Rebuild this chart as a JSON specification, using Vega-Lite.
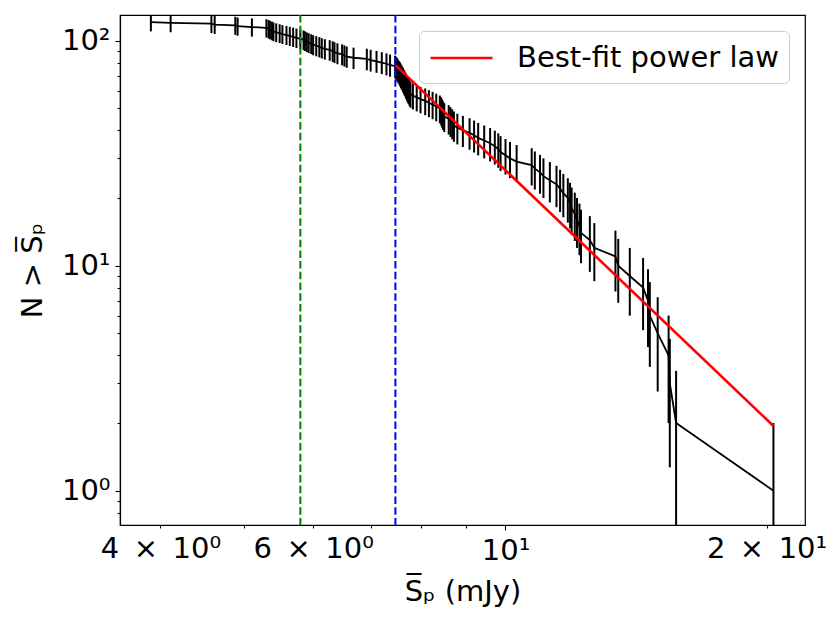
{
  "$schema": "https://vega.github.io/schema/vega-lite/v6.json",
  "width": 685,
  "height": 510,
  "autosize": "none",
  "padding": {"left": 120, "top": 15, "right": 26, "bottom": 96},
  "config": {
    "font": "DejaVu Sans",
    "view": {"stroke": "black", "strokeWidth": 1.2},
    "axis": {
      "grid": false,
      "domainColor": "black",
      "domainWidth": 1.2,
      "tickColor": "black",
      "tickWidth": 1.1,
      "labelColor": "black",
      "titleColor": "black",
      "labelFont": "DejaVu Sans",
      "titleFont": "DejaVu Sans",
      "labelFontSize": 29,
      "titleFontSize": 29,
      "titleFontWeight": "normal"
    }
  },
  "datasets": {
    "curve": [
      {"S": 3.90, "N": 121, "lo": 110.00, "hi": 132.00},
      {"S": 4.11, "N": 120, "lo": 109.05, "hi": 130.95},
      {"S": 4.58, "N": 119, "lo": 108.09, "hi": 129.91},
      {"S": 4.62, "N": 118, "lo": 107.14, "hi": 128.86},
      {"S": 4.88, "N": 117, "lo": 106.18, "hi": 127.82},
      {"S": 4.91, "N": 116, "lo": 105.23, "hi": 126.77},
      {"S": 5.10, "N": 115, "lo": 104.28, "hi": 125.72},
      {"S": 5.30, "N": 114, "lo": 103.32, "hi": 124.68},
      {"S": 5.33, "N": 113, "lo": 102.37, "hi": 123.63},
      {"S": 5.35, "N": 112, "lo": 101.42, "hi": 122.58},
      {"S": 5.38, "N": 111, "lo": 100.46, "hi": 121.54},
      {"S": 5.40, "N": 110, "lo": 99.51, "hi": 120.49},
      {"S": 5.44, "N": 109, "lo": 98.56, "hi": 119.44},
      {"S": 5.49, "N": 108, "lo": 97.61, "hi": 118.39},
      {"S": 5.53, "N": 107, "lo": 96.66, "hi": 117.34},
      {"S": 5.59, "N": 106, "lo": 95.70, "hi": 116.30},
      {"S": 5.64, "N": 105, "lo": 94.75, "hi": 115.25},
      {"S": 5.69, "N": 104, "lo": 93.80, "hi": 114.20},
      {"S": 5.74, "N": 103, "lo": 92.85, "hi": 113.15},
      {"S": 5.80, "N": 102, "lo": 91.90, "hi": 112.10},
      {"S": 5.85, "N": 101, "lo": 90.95, "hi": 111.05},
      {"S": 5.87, "N": 100, "lo": 90.00, "hi": 110.00},
      {"S": 5.90, "N": 99, "lo": 89.05, "hi": 108.95},
      {"S": 5.93, "N": 98, "lo": 88.10, "hi": 107.90},
      {"S": 5.97, "N": 97, "lo": 87.15, "hi": 106.85},
      {"S": 6.00, "N": 96, "lo": 86.20, "hi": 105.80},
      {"S": 6.05, "N": 95, "lo": 85.25, "hi": 104.75},
      {"S": 6.10, "N": 94, "lo": 84.30, "hi": 103.70},
      {"S": 6.14, "N": 93, "lo": 83.36, "hi": 102.64},
      {"S": 6.19, "N": 92, "lo": 82.41, "hi": 101.59},
      {"S": 6.27, "N": 91, "lo": 81.46, "hi": 100.54},
      {"S": 6.32, "N": 90, "lo": 80.51, "hi": 99.49},
      {"S": 6.35, "N": 89, "lo": 79.57, "hi": 98.43},
      {"S": 6.40, "N": 88, "lo": 78.62, "hi": 97.38},
      {"S": 6.48, "N": 87, "lo": 77.67, "hi": 96.33},
      {"S": 6.52, "N": 86, "lo": 76.73, "hi": 95.27},
      {"S": 6.56, "N": 85, "lo": 75.78, "hi": 94.22},
      {"S": 6.68, "N": 84, "lo": 74.83, "hi": 93.17},
      {"S": 6.92, "N": 83, "lo": 73.89, "hi": 92.11},
      {"S": 6.99, "N": 82, "lo": 72.94, "hi": 91.06},
      {"S": 7.10, "N": 81, "lo": 72.00, "hi": 90.00},
      {"S": 7.20, "N": 80, "lo": 71.06, "hi": 88.94},
      {"S": 7.29, "N": 79, "lo": 70.11, "hi": 87.89},
      {"S": 7.36, "N": 78, "lo": 69.17, "hi": 86.83},
      {"S": 7.46, "N": 77, "lo": 68.23, "hi": 85.77},
      {"S": 7.48, "N": 76, "lo": 67.28, "hi": 84.72},
      {"S": 7.50, "N": 75, "lo": 66.34, "hi": 83.66},
      {"S": 7.51, "N": 74, "lo": 65.40, "hi": 82.60},
      {"S": 7.53, "N": 73, "lo": 64.46, "hi": 81.54},
      {"S": 7.55, "N": 72, "lo": 63.51, "hi": 80.49},
      {"S": 7.56, "N": 71, "lo": 62.57, "hi": 79.43},
      {"S": 7.58, "N": 70, "lo": 61.63, "hi": 78.37},
      {"S": 7.59, "N": 69, "lo": 60.69, "hi": 77.31},
      {"S": 7.61, "N": 68, "lo": 59.75, "hi": 76.25},
      {"S": 7.62, "N": 67, "lo": 58.81, "hi": 75.19},
      {"S": 7.64, "N": 66, "lo": 57.88, "hi": 74.12},
      {"S": 7.65, "N": 65, "lo": 56.94, "hi": 73.06},
      {"S": 7.67, "N": 64, "lo": 56.00, "hi": 72.00},
      {"S": 7.68, "N": 63, "lo": 55.06, "hi": 70.94},
      {"S": 7.70, "N": 62, "lo": 54.13, "hi": 69.87},
      {"S": 7.71, "N": 61, "lo": 53.19, "hi": 68.81},
      {"S": 7.73, "N": 60, "lo": 52.25, "hi": 67.75},
      {"S": 7.75, "N": 59, "lo": 51.32, "hi": 66.68},
      {"S": 7.77, "N": 58, "lo": 50.38, "hi": 65.62},
      {"S": 7.82, "N": 57, "lo": 49.45, "hi": 64.55},
      {"S": 7.90, "N": 56, "lo": 48.52, "hi": 63.48},
      {"S": 7.98, "N": 55, "lo": 47.58, "hi": 62.42},
      {"S": 8.08, "N": 54, "lo": 46.65, "hi": 61.35},
      {"S": 8.16, "N": 53, "lo": 45.72, "hi": 60.28},
      {"S": 8.24, "N": 52, "lo": 44.79, "hi": 59.21},
      {"S": 8.32, "N": 51, "lo": 43.86, "hi": 58.14},
      {"S": 8.40, "N": 50, "lo": 42.93, "hi": 57.07},
      {"S": 8.43, "N": 49, "lo": 42.00, "hi": 56.00},
      {"S": 8.45, "N": 48, "lo": 41.07, "hi": 54.93},
      {"S": 8.47, "N": 47, "lo": 40.14, "hi": 53.86},
      {"S": 8.50, "N": 46, "lo": 39.22, "hi": 52.78},
      {"S": 8.60, "N": 45, "lo": 38.29, "hi": 51.71},
      {"S": 8.64, "N": 44, "lo": 37.37, "hi": 50.63},
      {"S": 8.68, "N": 43, "lo": 36.44, "hi": 49.56},
      {"S": 8.72, "N": 42, "lo": 35.52, "hi": 48.48},
      {"S": 8.80, "N": 41, "lo": 34.60, "hi": 47.40},
      {"S": 8.93, "N": 40, "lo": 33.68, "hi": 46.32},
      {"S": 9.09, "N": 39, "lo": 32.76, "hi": 45.24},
      {"S": 9.20, "N": 38, "lo": 31.84, "hi": 44.16},
      {"S": 9.30, "N": 37, "lo": 30.92, "hi": 43.08},
      {"S": 9.45, "N": 36, "lo": 30.00, "hi": 42.00},
      {"S": 9.60, "N": 35, "lo": 29.08, "hi": 40.92},
      {"S": 9.72, "N": 34, "lo": 28.17, "hi": 39.83},
      {"S": 9.81, "N": 33, "lo": 27.26, "hi": 38.74},
      {"S": 9.87, "N": 32, "lo": 26.34, "hi": 37.66},
      {"S": 10.00, "N": 31, "lo": 25.43, "hi": 36.57},
      {"S": 10.12, "N": 30, "lo": 24.52, "hi": 35.48},
      {"S": 10.30, "N": 29, "lo": 23.61, "hi": 34.39},
      {"S": 10.72, "N": 28, "lo": 22.71, "hi": 33.29},
      {"S": 10.81, "N": 27, "lo": 21.80, "hi": 32.20},
      {"S": 10.96, "N": 26, "lo": 20.90, "hi": 31.10},
      {"S": 11.06, "N": 25, "lo": 20.00, "hi": 30.00},
      {"S": 11.25, "N": 24, "lo": 19.10, "hi": 28.90},
      {"S": 11.45, "N": 23, "lo": 18.20, "hi": 27.80},
      {"S": 11.56, "N": 22, "lo": 17.31, "hi": 26.69},
      {"S": 11.66, "N": 21, "lo": 16.42, "hi": 25.58},
      {"S": 11.80, "N": 20, "lo": 15.53, "hi": 24.47},
      {"S": 11.87, "N": 19, "lo": 14.64, "hi": 23.36},
      {"S": 11.92, "N": 18, "lo": 13.76, "hi": 22.24},
      {"S": 12.02, "N": 17, "lo": 12.88, "hi": 21.12},
      {"S": 12.09, "N": 16, "lo": 12.00, "hi": 20.00},
      {"S": 12.17, "N": 15, "lo": 11.13, "hi": 18.87},
      {"S": 12.22, "N": 14, "lo": 10.26, "hi": 17.74},
      {"S": 12.51, "N": 13, "lo": 9.39, "hi": 16.61},
      {"S": 12.66, "N": 12, "lo": 8.54, "hi": 15.46},
      {"S": 13.39, "N": 11, "lo": 7.68, "hi": 14.32},
      {"S": 13.49, "N": 10, "lo": 6.84, "hi": 13.16},
      {"S": 13.91, "N": 9, "lo": 6.00, "hi": 12.00},
      {"S": 14.41, "N": 8, "lo": 5.17, "hi": 10.83},
      {"S": 14.60, "N": 7, "lo": 4.35, "hi": 9.65},
      {"S": 14.67, "N": 6, "lo": 3.55, "hi": 8.45},
      {"S": 14.98, "N": 5, "lo": 2.76, "hi": 7.24},
      {"S": 15.42, "N": 4, "lo": 2.00, "hi": 6.00},
      {"S": 15.47, "N": 3, "lo": 1.27, "hi": 4.73},
      {"S": 15.73, "N": 2, "lo": 0.59, "hi": 3.41},
      {"S": 20.37, "N": 1, "lo": 0.5, "hi": 2.00}
    ],
    "fit": [
      {"S": 7.47, "N": 77.7, "series": "Best-fit power law"},
      {"S": 20.37, "N": 1.94, "series": "Best-fit power law"}
    ]
  },
  "layer": [
    {
      "data": {"name": "curve"},
      "mark": {"type": "rule", "color": "black", "strokeWidth": 2, "clip": true},
      "encoding": {
        "x": {
          "field": "S",
          "type": "quantitative",
          "scale": {"type": "log", "domain": [3.593, 22.15], "nice": false},
          "axis": {
            "title": "S\u0305\u209a (mJy)",
            "values": [4, 5, 6, 7, 8, 9, 10, 20],
            "labelExpr": "datum.value == 4 ? '4\u2002\u00d7\u200210\u2070' : datum.value == 6 ? '6\u2002\u00d7\u200210\u2070' : datum.value == 10 ? '10\u00b9' : datum.value == 20 ? '2\u2002\u00d7\u200210\u00b9' : ''",
            "tickSize": {"condition": {"test": "datum.value == 10", "value": 5}, "value": 3},
            "labelPadding": 6,
            "titlePadding": 12,
            "labelFlush": false,
            "labelOverlap": false
          }
        },
        "y": {
          "field": "lo",
          "type": "quantitative",
          "scale": {"type": "log", "domain": [0.704, 130.1], "nice": false},
          "axis": {
            "title": "N > S\u0305\u209a",
            "values": [0.8, 0.9, 1, 2, 3, 4, 5, 6, 7, 8, 9, 10, 20, 30, 40, 50, 60, 70, 80, 90, 100],
            "labelExpr": "datum.value == 1 ? '10\u2070' : datum.value == 10 ? '10\u00b9' : datum.value == 100 ? '10\u00b2' : ''",
            "tickSize": {"condition": {"test": "datum.value == 1 || datum.value == 10 || datum.value == 100", "value": 5}, "value": 3},
            "labelPadding": 5,
            "titlePadding": 14,
            "labelFlush": false,
            "labelOverlap": false
          }
        },
        "y2": {"field": "hi"}
      }
    },
    {
      "data": {"name": "curve"},
      "mark": {"type": "line", "color": "black", "strokeWidth": 1.8, "clip": true},
      "encoding": {
        "x": {"field": "S", "type": "quantitative"},
        "y": {"field": "N", "type": "quantitative"}
      }
    },
    {
      "data": {"values": [{"S": 5.80}]},
      "mark": {"type": "rule", "color": "#008000", "strokeWidth": 2, "strokeDash": [7.5, 3.2]},
      "encoding": {"x": {"field": "S", "type": "quantitative"}}
    },
    {
      "data": {"values": [{"S": 7.465}]},
      "mark": {"type": "rule", "color": "#0000ff", "strokeWidth": 2, "strokeDash": [7.5, 3.2]},
      "encoding": {"x": {"field": "S", "type": "quantitative"}}
    },
    {
      "data": {"name": "fit"},
      "mark": {"type": "line", "strokeWidth": 2.6, "clip": true},
      "encoding": {
        "x": {"field": "S", "type": "quantitative"},
        "y": {"field": "N", "type": "quantitative"},
        "color": {
          "field": "series",
          "type": "nominal",
          "scale": {"range": ["#ff0000"]},
          "legend": {
            "title": null,
            "orient": "top-right",
            "offset": 16,
            "symbolType": "M-1,0H3",
            "symbolSize": 961,
            "symbolStrokeWidth": 2.6,
            "labelFont": "DejaVu Sans",
            "labelFontSize": 29,
            "labelColor": "black",
            "labelOffset": 54,
            "labelLimit": 600,
            "padding": 10,
            "strokeColor": "#cccccc",
            "fillColor": "white",
            "cornerRadius": 5
          }
        }
      }
    }
  ]
}
